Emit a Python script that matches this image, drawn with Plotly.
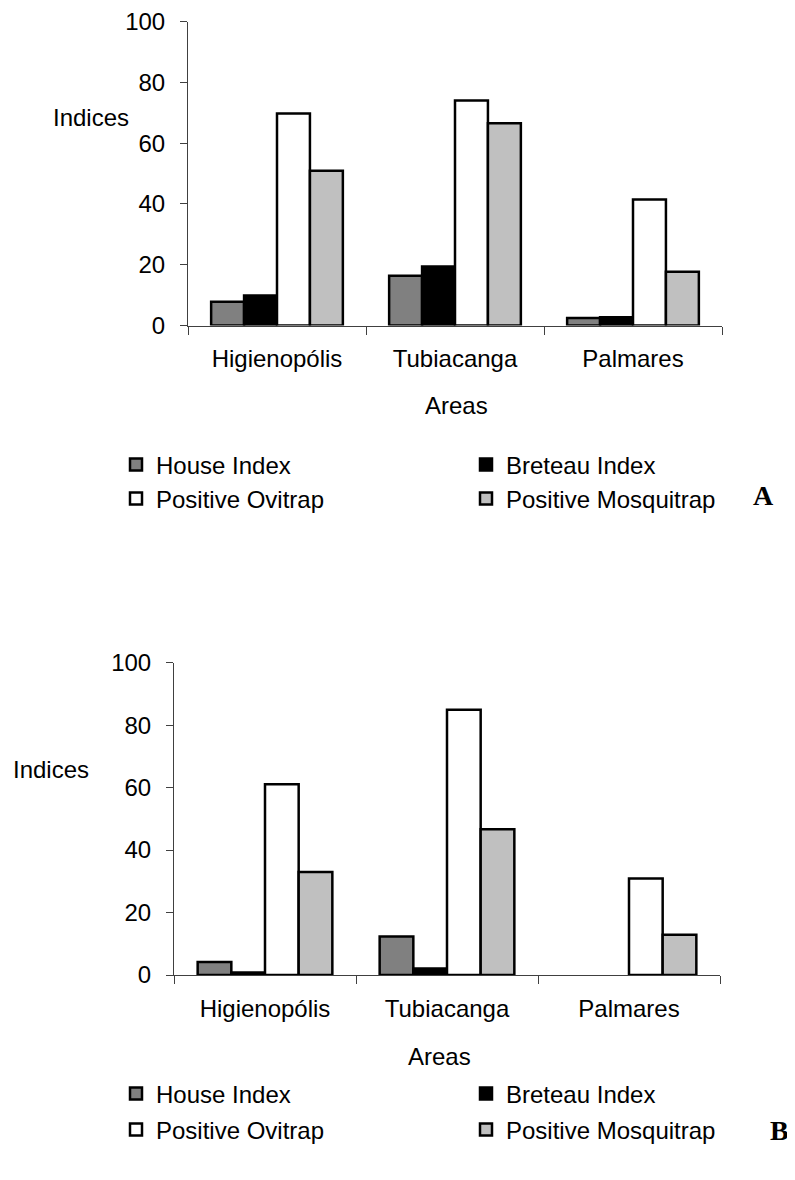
import plotly.graph_objects as go

# ---------------- data ----------------
areas = ["Higienopólis", "Tubiacanga", "Palmares"]
series_names = ["House Index", "Breteau Index", "Positive Ovitrap", "Positive Mosquitrap"]
series_colors = ["#808080", "#000000", "#FFFFFF", "#C0C0C0"]

a_house = [7.8, 16.4, 2.5]
a_breteau = [9.9, 19.4, 2.7]
a_ovitrap = [69.8, 74.1, 41.5]
a_mosquitrap = [50.9, 66.6, 17.7]

b_house = [4.2, 12.3, None]
b_breteau = [0.8, 2.1, None]
b_ovitrap = [61.1, 84.9, 30.9]
b_mosquitrap = [33.0, 46.7, 12.9]

y_ticks = [0, 20, 40, 60, 80, 100]

panel_a = [a_house, a_breteau, a_ovitrap, a_mosquitrap]
panel_b = [b_house, b_breteau, b_ovitrap, b_mosquitrap]

# ---------------- layout helpers ----------------
W, H = 795, 1180
FONT = "Liberation Sans, Arial, sans-serif"
FS = 24


def xp(px):
    return px / W


def yp(py):
    return 1 - py / H


fig = go.Figure()

legend_ids_a = ["legend", "legend2", "legend3", "legend4"]
legend_ids_b = ["legend5", "legend6", "legend7", "legend8"]

for vals, name, col, lid in zip(panel_a, series_names, series_colors, legend_ids_a):
    fig.add_trace(go.Bar(
        x=areas, y=vals, name=name, legend=lid,
        marker=dict(color=col, line=dict(color="#000000", width=2.5)),
        xaxis="x", yaxis="y",
    ))

for vals, name, col, lid in zip(panel_b, series_names, series_colors, legend_ids_b):
    fig.add_trace(go.Bar(
        x=areas, y=vals, name=name, legend=lid,
        marker=dict(color=col, line=dict(color="#000000", width=2.5)),
        xaxis="x2", yaxis="y2",
    ))

xaxis_common = dict(
    type="category", showline=True, linecolor="#404040", linewidth=1,
    ticks="outside", tickson="boundaries", ticklen=8, tickcolor="#404040",
    tickfont=dict(family=FONT, size=FS, color="#000000"),
    showgrid=False, zeroline=False, ticklabelstandoff=12, automargin=False,
    categoryorder="array", categoryarray=areas,
)
yaxis_common = dict(
    range=[0, 100], tickvals=y_ticks, showline=True, linecolor="#404040",
    linewidth=1, ticks="outside", ticklen=7, tickcolor="#404040",
    tickfont=dict(family=FONT, size=FS, color="#000000"),
    showgrid=False, zeroline=False, automargin=False, ticklabelstandoff=10,
)

legend_common = dict(
    font=dict(family=FONT, size=FS, color="#000000"),
    bgcolor="rgba(0,0,0,0)", xanchor="left", yanchor="middle",
    borderwidth=0,
)

legend_pos_a = [(108, 457), (458, 457), (108, 491), (458, 491)]
legend_pos_b = [(108, 1086), (458, 1086), (108, 1122), (458, 1122)]

legends = {}
for lid, (lx, ly) in zip(legend_ids_a + legend_ids_b, legend_pos_a + legend_pos_b):
    legends[lid] = dict(legend_common, x=xp(lx), y=yp(ly))

annotations = [
    dict(text="Indices", x=xp(83), y=yp(110)),
    dict(text="Areas", x=xp(448), y=yp(397)),
    dict(text="Indices", x=xp(43), y=yp(761)),
    dict(text="Areas", x=xp(431), y=yp(1048)),
]
for a in annotations:
    a.update(xref="paper", yref="paper", showarrow=False, xanchor="center",
             yanchor="middle", font=dict(family=FONT, size=FS, color="#000000"))

annotations += [
    dict(text="<b>A</b>", x=xp(755), y=yp(488), xref="paper", yref="paper",
         showarrow=False, xanchor="center", yanchor="middle",
         font=dict(family="Liberation Serif, Times New Roman, serif", size=28, color="#000000")),
    dict(text="<b>B</b>", x=xp(771), y=yp(1122), xref="paper", yref="paper",
         showarrow=False, xanchor="center", yanchor="middle",
         font=dict(family="Liberation Serif, Times New Roman, serif", size=28, color="#000000")),
]

fig.update_layout(
    template="none",
    width=W, height=H,
    margin=dict(l=0, r=0, t=0, b=0, autoexpand=False),
    paper_bgcolor="#FFFFFF", plot_bgcolor="#FFFFFF",
    barmode="group", bargap=0.26, bargroupgap=0,
    showlegend=True,
    xaxis=dict(xaxis_common, domain=[xp(180), xp(714)], anchor="y"),
    yaxis=dict(yaxis_common, domain=[yp(317.5), yp(13.7)], anchor="x"),
    xaxis2=dict(xaxis_common, domain=[xp(166), xp(712)], anchor="y2"),
    yaxis2=dict(yaxis_common, domain=[yp(967), yp(654.7)], anchor="x2"),
    annotations=annotations,
    **legends,
)

fig.write_html("out.html")
